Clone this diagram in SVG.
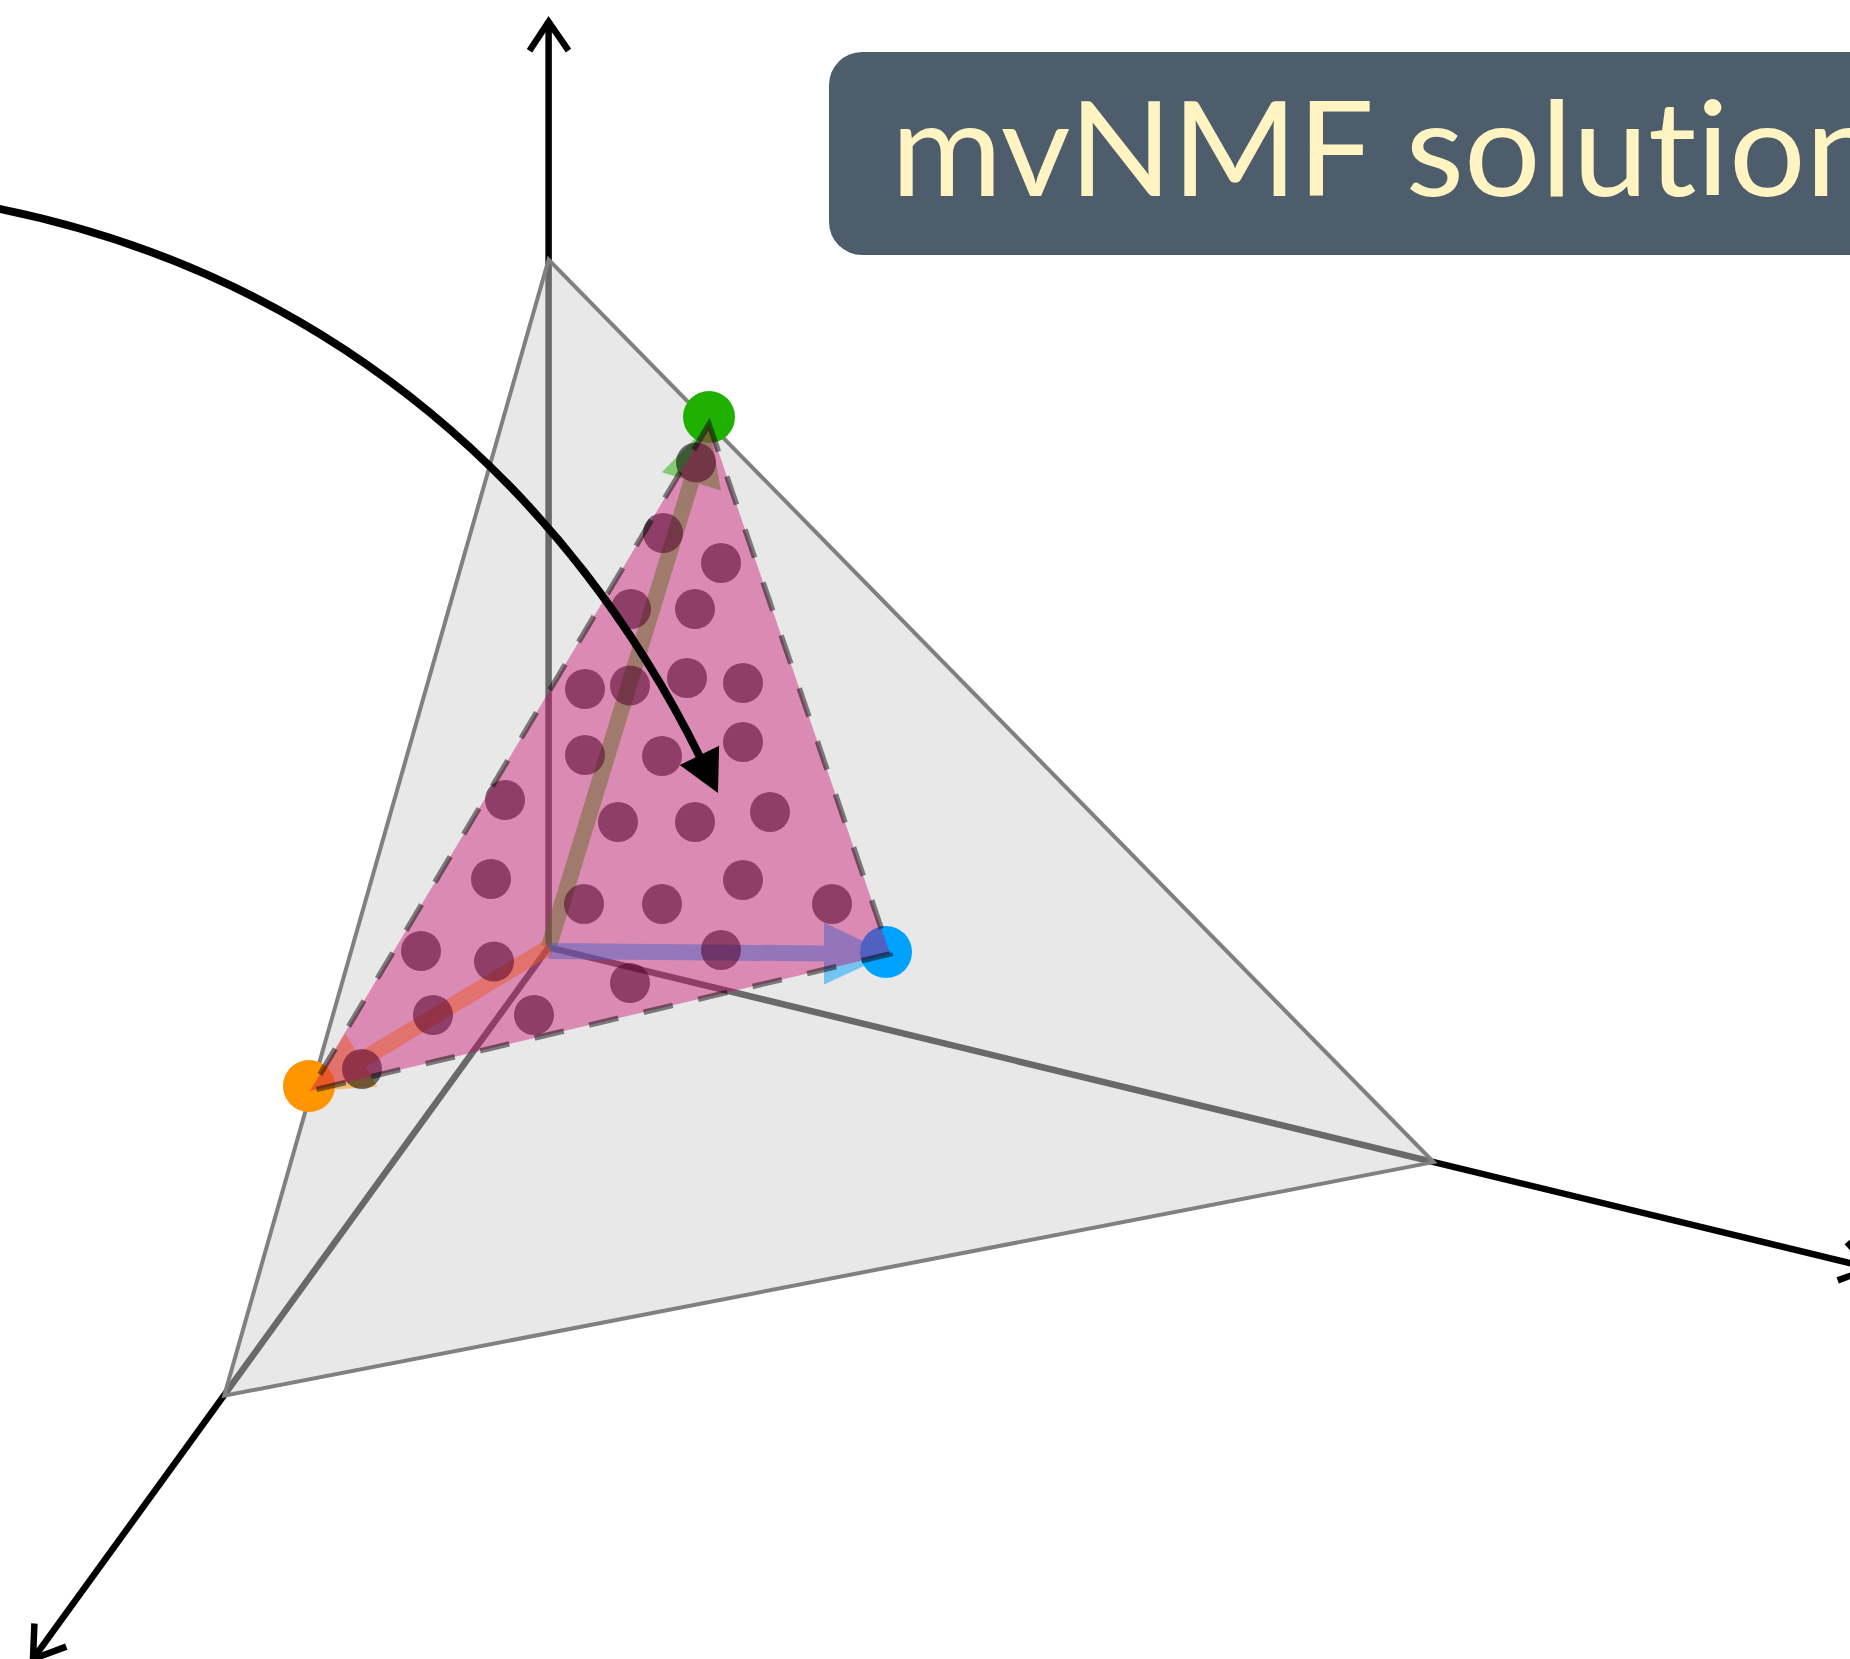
<svg xmlns="http://www.w3.org/2000/svg" width="1850" height="1659" viewBox="0 0 1850 1659">
  <style>
    .axis { stroke: #000; stroke-width: 6.5; fill: none; stroke-linejoin: miter; }
    .edge { stroke: #808080; stroke-width: 4; fill: none; }
    .dot { fill: #000; fill-opacity: 0.55; }
    .shaft { stroke-width: 16; fill: none; }
    .title-text { font-family: "Lato", "Open Sans", "Liberation Sans", sans-serif; font-size: 132px; fill: #fff4c2; font-variant-ligatures: none; font-feature-settings: "liga" 0; }
  </style>
  <rect width="1850" height="1659" fill="#ffffff"/>

  <g id="axes">
    <line class="axis" x1="548.6" y1="947.4" x2="548.6" y2="22"/>
    <polyline class="axis" points="529.5,50.7 548.6,21.7 568.5,50.7"/>
    <line class="axis" x1="548.6" y1="947.4" x2="1871" y2="1268.2"/>
    <polyline class="axis" points="1847,1242.1 1871,1268.2 1837.7,1280.4"/>
    <line class="axis" x1="548.6" y1="947.4" x2="33" y2="1659"/>
    <polyline class="axis" points="34.4,1623.5 33,1659 66.3,1646.6"/>
  </g>

  <g id="simplex">
    <polygon points="548.6,259.6 1433.5,1162.1 224.2,1395.7" fill="#d1d1d1" fill-opacity="0.5"/>
    <polygon class="edge" points="548.6,259.6 1433.5,1162.1 224.2,1395.7"/>
  </g>

  <g id="connectors">
    <g id="arrow-green" opacity="0.5">
      <line class="shaft" stroke="#20b000" x1="548.6" y1="947.4" x2="691.4" y2="481.4"/>
      <polygon fill="#20b000" points="709,424 721,490.5 661.8,472.3"/>
    </g>
    <g id="arrow-blue" opacity="0.5">
      <line class="shaft" stroke="#00a2ff" x1="548.6" y1="951" x2="824" y2="953.4"/>
      <polygon fill="#00a2ff" points="890,954 824,922.4 824,984.4"/>
    </g>
    <g id="arrow-orange" opacity="0.5">
      <line class="shaft" stroke="#ff9500" x1="548.6" y1="947.4" x2="361.4" y2="1060.1"/>
      <polygon fill="#ff9500" points="310,1091 377.4,1086.7 345.4,1033.5"/>
    </g>
  </g>

  <g id="vertices">
    <circle id="v-green" cx="709" cy="417" r="26" fill="#20b000"/>
    <circle id="v-orange" cx="309" cy="1086" r="26" fill="#ff9500"/>
    <circle id="v-blue" cx="886" cy="952" r="26" fill="#00a2ff"/>
  </g>

  <g id="data-points">
    <circle class="dot" cx="696" cy="462.5" r="20"/>
    <circle class="dot" cx="663" cy="533" r="20"/>
    <circle class="dot" cx="721" cy="563" r="20"/>
    <circle class="dot" cx="631" cy="609" r="20"/>
    <circle class="dot" cx="695" cy="609" r="20"/>
    <circle class="dot" cx="585" cy="689" r="20"/>
    <circle class="dot" cx="630" cy="685.5" r="20"/>
    <circle class="dot" cx="687" cy="678" r="20"/>
    <circle class="dot" cx="743" cy="683" r="20"/>
    <circle class="dot" cx="585" cy="755" r="20"/>
    <circle class="dot" cx="662" cy="756" r="20"/>
    <circle class="dot" cx="743" cy="742" r="20"/>
    <circle class="dot" cx="505" cy="800" r="20"/>
    <circle class="dot" cx="618" cy="822" r="20"/>
    <circle class="dot" cx="695" cy="822" r="20"/>
    <circle class="dot" cx="770" cy="812" r="20"/>
    <circle class="dot" cx="491" cy="879" r="20"/>
    <circle class="dot" cx="584" cy="904" r="20"/>
    <circle class="dot" cx="662" cy="904" r="20"/>
    <circle class="dot" cx="743" cy="880" r="20"/>
    <circle class="dot" cx="832" cy="904" r="20"/>
    <circle class="dot" cx="421" cy="951" r="20"/>
    <circle class="dot" cx="494" cy="961.5" r="20"/>
    <circle class="dot" cx="721" cy="950" r="20"/>
    <circle class="dot" cx="433" cy="1015" r="20"/>
    <circle class="dot" cx="534" cy="1015" r="20"/>
    <circle class="dot" cx="630" cy="983" r="20"/>
    <circle class="dot" cx="362" cy="1069" r="20"/>
  </g>

  <g id="solution-triangle">
    <polygon points="709,424 310,1091 890,954" fill="rgb(200,0,100)" fill-opacity="0.4"/>
    <polygon points="709,424 310,1091 890,954" fill="none" stroke="#000" stroke-opacity="0.48" stroke-width="5.5" stroke-dasharray="30 26"/>
  </g>

  <g id="curve-arrow">
    <path d="M-5,208 C340,277 573,500 700,757" fill="none" stroke="#000" stroke-width="8"/>
    <polygon points="718,793 679.7,765.1 719.1,745.7" fill="#000"/>
  </g>

  <g id="title">
    <rect x="829" y="52" width="1100" height="203" rx="33" ry="33" fill="#4d5d6c"/>
    <text class="title-text" x="891" y="196" textLength="990" lengthAdjust="spacingAndGlyphs">mvNMF solution</text>
  </g>
</svg>
